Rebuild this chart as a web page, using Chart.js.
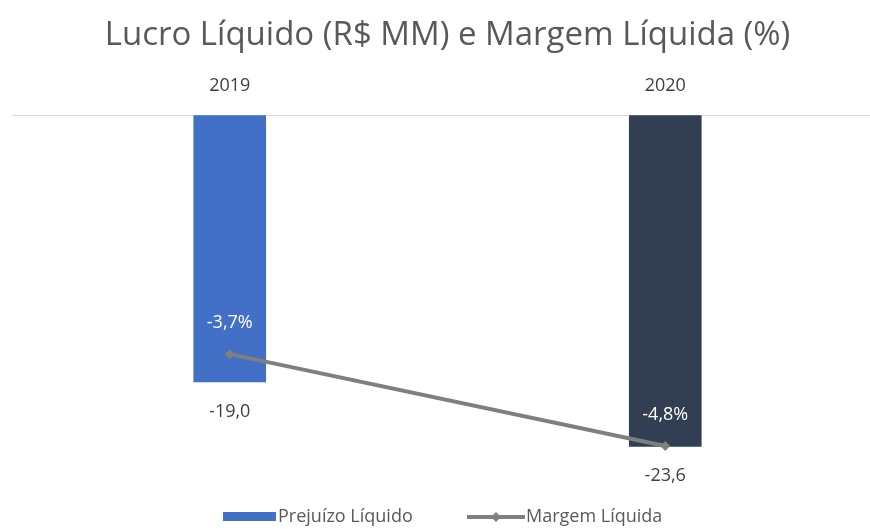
<!DOCTYPE html>
<html>
<head>
<meta charset="utf-8">
<script src="https://cdn.jsdelivr.net/npm/chart.js@4/dist/chart.umd.min.js"></script>
<style>
  html, body { margin: 0; padding: 0; background: #fff; overflow: hidden; }
  #wrap { width: 870px; height: 529px; overflow: hidden; }
  #box { position: relative; width: 902px; height: 529px; }
</style>
</head>
<body>
<div id="wrap"><div id="box"><canvas id="chart"></canvas></div></div>
<script>
var years = ["2019", "2020"];
var lucro = [-19.0, -23.6];        // Prejuízo Líquido (R$ MM)
var margem = [-3.7, -4.8];         // Margem Líquida (%)
var barColors = ["#4170c6", "#323e52"];
var fontFamily = "'Open Sans', sans-serif";

function fmt(v) {
  return v.toFixed(1).replace(".", ",");
}

/* value labels + custom legend */
var labelsPlugin = {
  id: "labelsPlugin",
  afterDatasetsDraw: function (chart) {
    var ctx = chart.ctx;
    ctx.save();
    ctx.font = "18px " + fontFamily;
    ctx.textAlign = "center";
    ctx.textBaseline = "middle";

    chart.getDatasetMeta(1).data.forEach(function (bar, i) {
      ctx.fillStyle = "#404040";
      ctx.fillText(fmt(lucro[i]), bar.x, bar.y + 30);
    });
    chart.getDatasetMeta(0).data.forEach(function (pt, i) {
      ctx.fillStyle = "#ffffff";
      ctx.fillText(fmt(margem[i]) + "%", pt.x, pt.y - 31);
    });

    // legend
    var ly = 517;
    ctx.font = "18px " + fontFamily;
    ctx.textAlign = "left";
    ctx.fillStyle = barColors[0];
    ctx.fillRect(223, ly - 5, 53, 9);
    ctx.fillStyle = "#595959";
    ctx.fillText("Prejuízo Líquido", 278, ly);

    ctx.strokeStyle = "#7f7f7f";
    ctx.lineWidth = 4;
    ctx.beginPath();
    ctx.moveTo(467, ly);
    ctx.lineTo(525, ly);
    ctx.stroke();
    ctx.fillStyle = "#7f7f7f";
    ctx.beginPath();
    ctx.moveTo(496, ly - 5);
    ctx.lineTo(501, ly);
    ctx.lineTo(496, ly + 5);
    ctx.lineTo(491, ly);
    ctx.closePath();
    ctx.fill();
    ctx.fillStyle = "#595959";
    ctx.fillText("Margem Líquida", 526, ly);
    ctx.restore();
  }
};

new Chart(document.getElementById("chart"), {
  type: "bar",
  data: {
    labels: years,
    datasets: [
      {
        type: "line",
        label: "Margem Líquida",
        data: margem,
        yAxisID: "y2",
        borderColor: "#7f7f7f",
        backgroundColor: "#7f7f7f",
        borderWidth: 4,
        pointStyle: "rectRot",
        pointRadius: 5,
        pointBorderWidth: 0,
        tension: 0,
        order: 0
      },
      {
        label: "Prejuízo Líquido",
        data: lucro,
        yAxisID: "y",
        backgroundColor: barColors,
        barThickness: 72,
        order: 1
      }
    ]
  },
  options: {
    responsive: true,
    maintainAspectRatio: false,
    animation: false,
    layout: { padding: { left: 12, right: 19, top: 8, bottom: 70 } },
    scales: {
      x: {
        position: "top",
        grid: { display: false, drawTicks: false },
        border: { display: true, color: "#d9d9d9", width: 1 },
        ticks: {
          color: "#404040",
          font: { size: 18, family: fontFamily },
          padding: 19
        }
      },
      y: {
        display: false,
        min: -24.5,
        max: 0
      },
      y2: {
        display: false,
        min: -4.955,
        max: -0.84
      }
    },
    plugins: {
      legend: { display: false },
      tooltip: { enabled: false },
      title: {
        display: true,
        text: "Lucro Líquido (R$ MM) e Margem Líquida (%)",
        color: "#595959",
        font: { size: 33, weight: "normal", family: fontFamily },
        padding: { top: 8, bottom: 0 }
      }
    }
  },
  plugins: [labelsPlugin]
});
</script>
</body>
</html>
